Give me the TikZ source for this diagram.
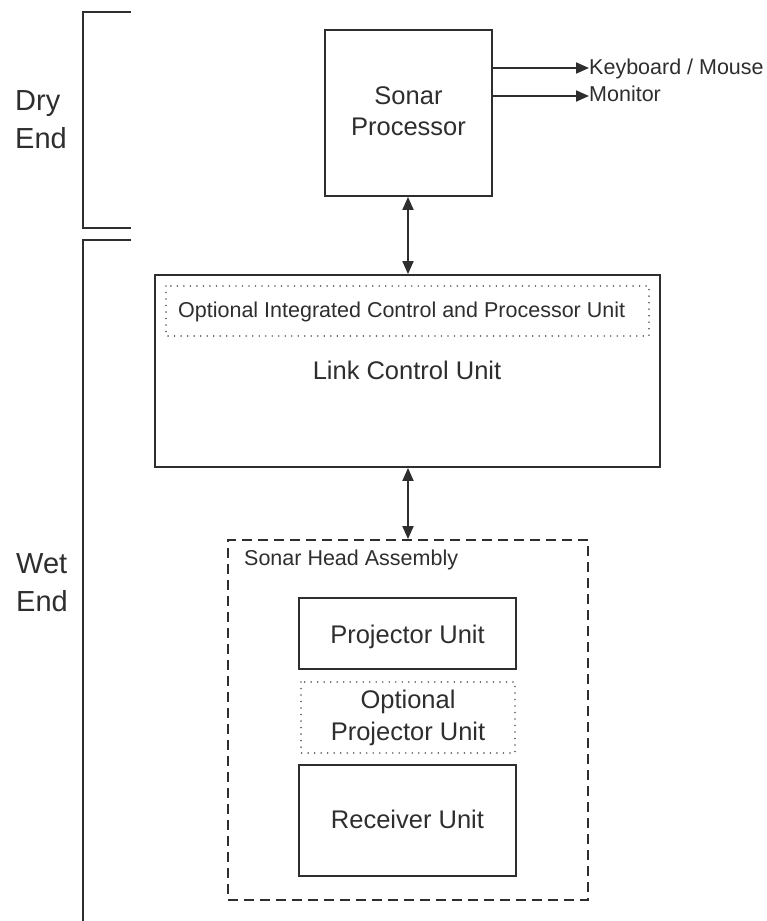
\documentclass[tikz,border=0pt]{standalone}
\usepackage{fontspec}
\setmainfont{Liberation Sans}
\usetikzlibrary{arrows.meta}
\definecolor{ink}{HTML}{2E2E2E}
\begin{document}
\begin{tikzpicture}[x=1pt,y=-1pt,
  line/.style={draw=ink,line width=1.8pt},
  solidbox/.style={line,rectangle,inner sep=0pt},
  dotbox/.style={draw=ink!75,line width=1.7pt,dash pattern=on 0.01pt off 6.5pt,line cap=round},
  dashbox/.style={draw=ink,line width=1.8pt,dash pattern=on 10pt off 6pt},
  tip/.style={-{Triangle[length=13pt,width=11pt]}},
  dtip/.style={{Triangle[length=13pt,width=11pt]}-{Triangle[length=13pt,width=11pt]}},
  txt/.style={text=ink,inner sep=0pt},
  lbl/.style={txt,font=\fontsize{25.5}{32}\selectfont,anchor=base},
  small/.style={txt,font=\fontsize{21.5}{26}\selectfont,anchor=base west},
  big/.style={txt,font=\fontsize{29}{38}\selectfont,anchor=base west}]
\useasboundingbox (0,0) rectangle (767,921);
% brackets
\coordinate (d1) at (131,12);
\coordinate (d2) at (83,12);
\coordinate (d3) at (83,228);
\coordinate (d4) at (131,228);
\draw[line] (d1) -- (d2) -- (d3) -- (d4);
\coordinate (w1) at (131,240);
\coordinate (w2) at (83,240);
\coordinate (w3) at (83,921);
\draw[line] (w1) -- (w2) -- (w3);
\node[big] (dry) at (15,110) {Dry};
\node[big] (dryend) at (15,148) {End};
\node[big] (wet) at (16,573) {Wet};
\node[big] (wetend) at (16,611) {End};
% sonar processor
\node[solidbox,minimum width=167pt,minimum height=166pt] (sp) at (408.5,113) {};
\node[lbl] (spt1) at (408.5,104) {Sonar};
\node[lbl] (spt2) at (408.5,135) {Processor};
\coordinate (k0) at (492,68);
\coordinate (m0) at (492,96);
\node[small] (kb) at (589,74) {Keyboard / Mouse};
\node[small] (mon) at (589,101) {Monitor};
\draw[line,tip] (k0) -- (kb.west |- k0);
\draw[line,tip] (m0) -- (mon.west |- m0);
% link control unit
\node[solidbox,minimum width=505pt,minimum height=192pt] (lcu) at (407.5,371) {};
\draw[dotbox] (166,286) rectangle (649,336);
\node[small] (opt) at (178,317) {Optional Integrated Control and Processor Unit};
\node[lbl] (lcut) at (407,379) {Link Control Unit};
\draw[line,dtip] (sp.south -| 408,0) -- (lcu.north -| 408,0);
% sonar head assembly
\node[dashbox,rectangle,minimum width=360pt,minimum height=360pt,inner sep=0pt] (sha) at (408,720) {};
\node[small] (shat) at (244,565) {Sonar Head Assembly};
\draw[line,dtip] (lcu.south -| 408,0) -- (sha.north -| 408,0);
\node[solidbox,minimum width=217pt,minimum height=71pt] (pu) at (407.5,633.5) {};
\node[lbl] (put) at (407.5,643) {Projector Unit};
\draw[dotbox] (301,682) rectangle (515,753);
\node[lbl] (opu1) at (408,708) {Optional};
\node[lbl] (opu2) at (408,740) {Projector Unit};
\node[solidbox,minimum width=217pt,minimum height=111pt] (ru) at (407.5,820.5) {};
\node[lbl] (rut) at (407.5,828) {Receiver Unit};
\end{tikzpicture}
\end{document}
